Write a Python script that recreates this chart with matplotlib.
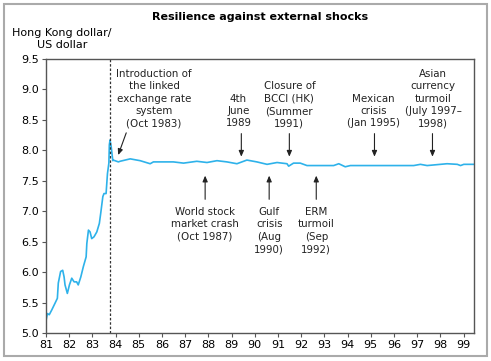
import matplotlib.pyplot as plt
from matplotlib.patches import Rectangle

# HKD per USD
years = [81.0, 81.06, 81.14, 81.25, 81.39, 81.49, 81.53, 81.63, 81.72, 81.78,
         81.82, 81.92, 82.01, 82.11, 82.21, 82.32, 82.39, 82.50, 82.61, 82.73,
         82.76, 82.83, 82.90, 82.97, 83.07, 83.19, 83.30, 83.36, 83.45, 83.50,
         83.59, 83.65, 83.71, 83.73, 83.76, 83.81, 83.88, 83.90, 84.12, 84.19,
         84.63, 85.06, 85.49, 85.63, 86.21, 86.49, 86.93, 87.50, 87.94, 88.37,
         88.80, 89.23, 89.66, 90.09, 90.53, 90.96, 91.39, 91.46, 91.67, 91.96,
         92.25, 93.40, 93.62, 93.90, 94.12, 96.85, 97.14, 97.43, 98.29, 98.73,
         98.87, 99.01, 99.44]
rate = [5.20, 5.32, 5.30, 5.38, 5.49, 5.57, 5.82, 6.01, 6.03, 5.92,
        5.79, 5.65, 5.79, 5.90, 5.84, 5.84, 5.79, 5.92, 6.09, 6.25,
        6.47, 6.69, 6.66, 6.55, 6.58, 6.66, 6.80, 6.97, 7.24, 7.29,
        7.29, 7.62, 7.79, 8.09, 8.17, 8.06, 7.83, 7.84, 7.81, 7.82,
        7.86, 7.83, 7.78, 7.81, 7.81, 7.81, 7.79, 7.82, 7.80, 7.83,
        7.81, 7.78, 7.84, 7.81, 7.77, 7.80, 7.78, 7.74, 7.79, 7.79,
        7.75, 7.75, 7.78, 7.73, 7.75, 7.75, 7.77, 7.75, 7.78, 7.77,
        7.75, 7.77, 7.77]

peg_date = 83.76

# events above the line (arrow points down)
top_labels = ['4th\nJune\n1989', 'Closure of\nBCCI (HK)\n(Summer\n1991)',
              'Mexican\ncrisis\n(Jan 1995)',
              'Asian\ncurrency\nturmoil\n(July 1997–\n1998)']
top_dates = [89.42, 91.49, 95.16, 97.66]
top_text_x = [89.3, 91.49, 95.11, 97.70]

# events below the line (arrow points up)
bottom_labels = ['World stock\nmarket crash\n(Oct 1987)', 'Gulf\ncrisis\n(Aug\n1990)',
                 'ERM\nturmoil\n(Sep\n1992)']
bottom_dates = [87.86, 90.62, 92.65]

fig = plt.figure(figsize=(4.91, 3.61), dpi=100)
ax = fig.add_axes([46 / 491, 28 / 361, 428 / 491, 274 / 361])

ax.plot(years, rate, color='#2eb2ea', lw=1.2)
ax.axvline(peg_date, color='#333333', lw=0.9, ls=(0, (2, 1.5)))

fs = 7.4
ls = 1.3
tc = '#222222'
arrow = dict(arrowstyle='-|>,head_length=0.35,head_width=0.15', color='#222222', lw=0.8)

ax.text(85.66, 8.36, 'Introduction of\nthe linked\nexchange rate\nsystem\n(Oct 1983)',
        ha='center', va='bottom', fontsize=fs, linespacing=ls, color=tc)
ax.annotate('', xy=(84.07, 7.88), xytext=(84.5, 8.33), arrowprops=arrow)

for lab, d, tx in zip(top_labels, top_dates, top_text_x):
    ax.text(tx, 8.36, lab, ha='center', va='bottom', fontsize=fs, linespacing=ls, color=tc)
    ax.annotate('', xy=(d, 7.85), xytext=(d, 8.32), arrowprops=arrow)

for lab, d in zip(bottom_labels, bottom_dates):
    ax.text(d, 7.07, lab, ha='center', va='top', fontsize=fs, linespacing=ls, color=tc)
    ax.annotate('', xy=(d, 7.63), xytext=(d, 7.15), arrowprops=arrow)

ax.set_xlim(81, 99.45)
ax.set_ylim(5.0, 9.5)
ax.set_xticks(range(81, 100))
ax.set_xticklabels([str(y) for y in range(81, 100)])
ax.set_yticks([5.0, 5.5, 6.0, 6.5, 7.0, 7.5, 8.0, 8.5, 9.0, 9.5])
ax.set_yticklabels(['5.0', '5.5', '6.0', '6.5', '7.0', '7.5', '8.0', '8.5', '9.0', '9.5'])
ax.tick_params(labelsize=8, length=3, width=0.8, color='#555555', pad=2)
for s in ax.spines.values():
    s.set_color('#555555')
    s.set_linewidth(1.0)

fig.text(260 / 491, 1 - 17 / 361, 'Resilience against external shocks',
         ha='center', va='center', fontsize=8, fontweight='bold')
fig.text(62 / 491, 1 - 39 / 361, 'Hong Kong dollar/\nUS dollar',
         ha='center', va='center', fontsize=8, linespacing=1.2)

fig.patches.append(Rectangle((4 / 491, 5 / 361), 483 / 491, 352 / 361,
                             transform=fig.transFigure, fill=False,
                             edgecolor='#aaaaaa', lw=1.5))

fig.savefig('out.png', dpi=100)
